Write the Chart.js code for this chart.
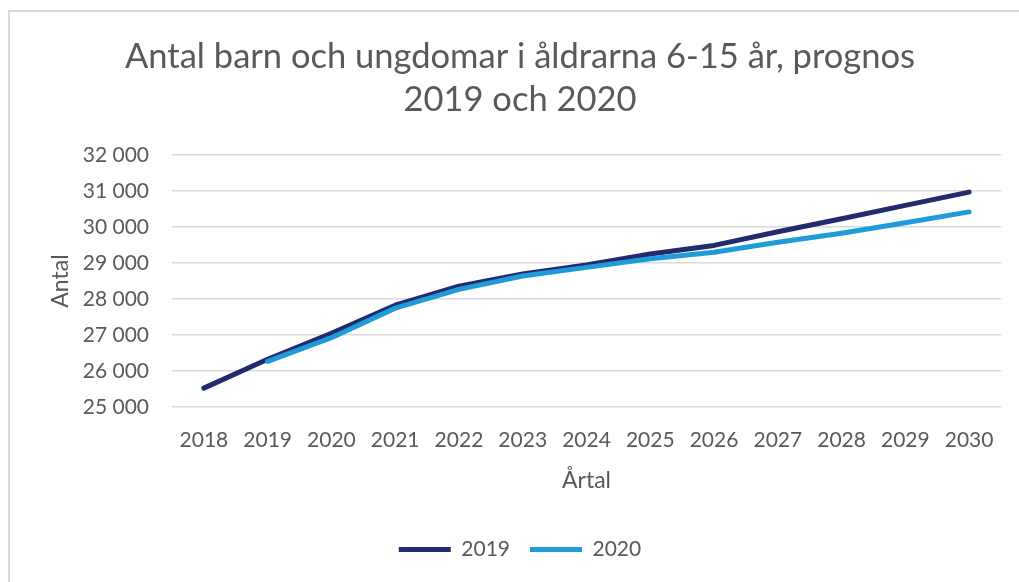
<!DOCTYPE html>
<html lang="sv">
<head>
<meta charset="utf-8">
<title>Antal barn och ungdomar i åldrarna 6-15 år</title>
<script src="https://cdn.jsdelivr.net/npm/chart.js@4.4.1/dist/chart.umd.min.js"></script>
<style>
  html, body { margin: 0; padding: 0; background: #fff; overflow: hidden; }
  #frame {
    position: absolute; left: 8px; top: 10px;
    width: 1100px; height: 700px;
    border: 2px solid #d9d9d9;
  }
  #wrap { position: absolute; left: 10px; top: 12px; width: 1020px; height: 570px; }
</style>
</head>
<body>
<div id="frame"></div>
<div id="wrap"><canvas id="chart"></canvas></div>
<script>
// Data
const years = ["2018", "2019", "2020", "2021", "2022", "2023", "2024", "2025", "2026", "2027", "2028", "2029", "2030"];
const prognos2019 = [25530, 26330, 27050, 27830, 28360, 28700, 28950, 29250, 29490, 29870, 30230, 30600, 30970];
const prognos2020 = [null, 26270, 26930, 27750, 28270, 28640, 28880, 29120, 29300, 29580, 29830, 30120, 30420];
const yTicks = [25000, 26000, 27000, 28000, 29000, 30000, 31000, 32000];

const grey = "#595959";
const font = "Lato, 'Noto Sans', sans-serif";

// 32000 -> "32 000"
function formatNumber(v) {
  return String(v).replace(/\B(?=(\d{3})+(?!\d))/g, " ");
}

new Chart(document.getElementById("chart").getContext("2d"), {
  type: "line",
  data: {
    labels: years,
    datasets: [
      {
        label: "2019",
        data: prognos2019,
        borderColor: "#232B6E",
        backgroundColor: "#232B6E",
        borderWidth: 5,
        borderCapStyle: "round",
        borderJoinStyle: "round",
        pointRadius: 0,
        tension: 0,
        order: 1
      },
      {
        label: "2020",
        data: prognos2020,
        borderColor: "#1F9CD8",
        backgroundColor: "#1F9CD8",
        borderWidth: 5,
        borderCapStyle: "round",
        borderJoinStyle: "round",
        pointRadius: 0,
        tension: 0,
        order: 0
      }
    ]
  },
  options: {
    responsive: true,
    maintainAspectRatio: false,
    animation: false,
    layout: { padding: { left: 29, right: 29, top: 0, bottom: 12 } },
    plugins: {
      title: {
        display: true,
        text: ["Antal barn och ungdomar i åldrarna 6-15 år, prognos", "2019 och 2020"],
        color: grey,
        font: { family: font, size: 34.5, weight: "normal", lineHeight: 1.246 },
        padding: { top: 23, bottom: 34 }
      },
      legend: {
        position: "bottom",
        labels: {
          color: grey,
          font: { family: font, size: 21 },
          usePointStyle: true,
          pointStyle: "line",
          pointStyleWidth: 52,
          padding: 20,
          sort: (a, b) => a.datasetIndex - b.datasetIndex
        }
      },
      tooltip: { enabled: false }
    },
    scales: {
      x: {
        offset: true,
        grid: { display: false, drawTicks: false },
        border: { display: false },
        ticks: { color: grey, font: { family: font, size: 21 }, padding: 20, maxRotation: 0 },
        title: {
          display: true,
          text: "Årtal",
          color: grey,
          font: { family: font, size: 23 },
          padding: { top: -6, bottom: 25 }
        }
      },
      y: {
        min: 25000,
        max: 32000,
        afterBuildTicks: (scale) => { scale.ticks = yTicks.map(v => ({ value: v })); },
        afterFit: (scale) => { scale.width = 133; },
        grid: { color: "#d9d9d9", lineWidth: 1.5, drawTicks: false },
        border: { display: false },
        ticks: {
          color: grey,
          font: { family: font, size: 21 },
          padding: 23,
          callback: (v) => formatNumber(v)
        },
        title: {
          display: true,
          text: "Antal",
          color: grey,
          font: { family: font, size: 23 },
          padding: { top: 8, bottom: 4 }
        }
      }
    }
  }
});
</script>
</body>
</html>
